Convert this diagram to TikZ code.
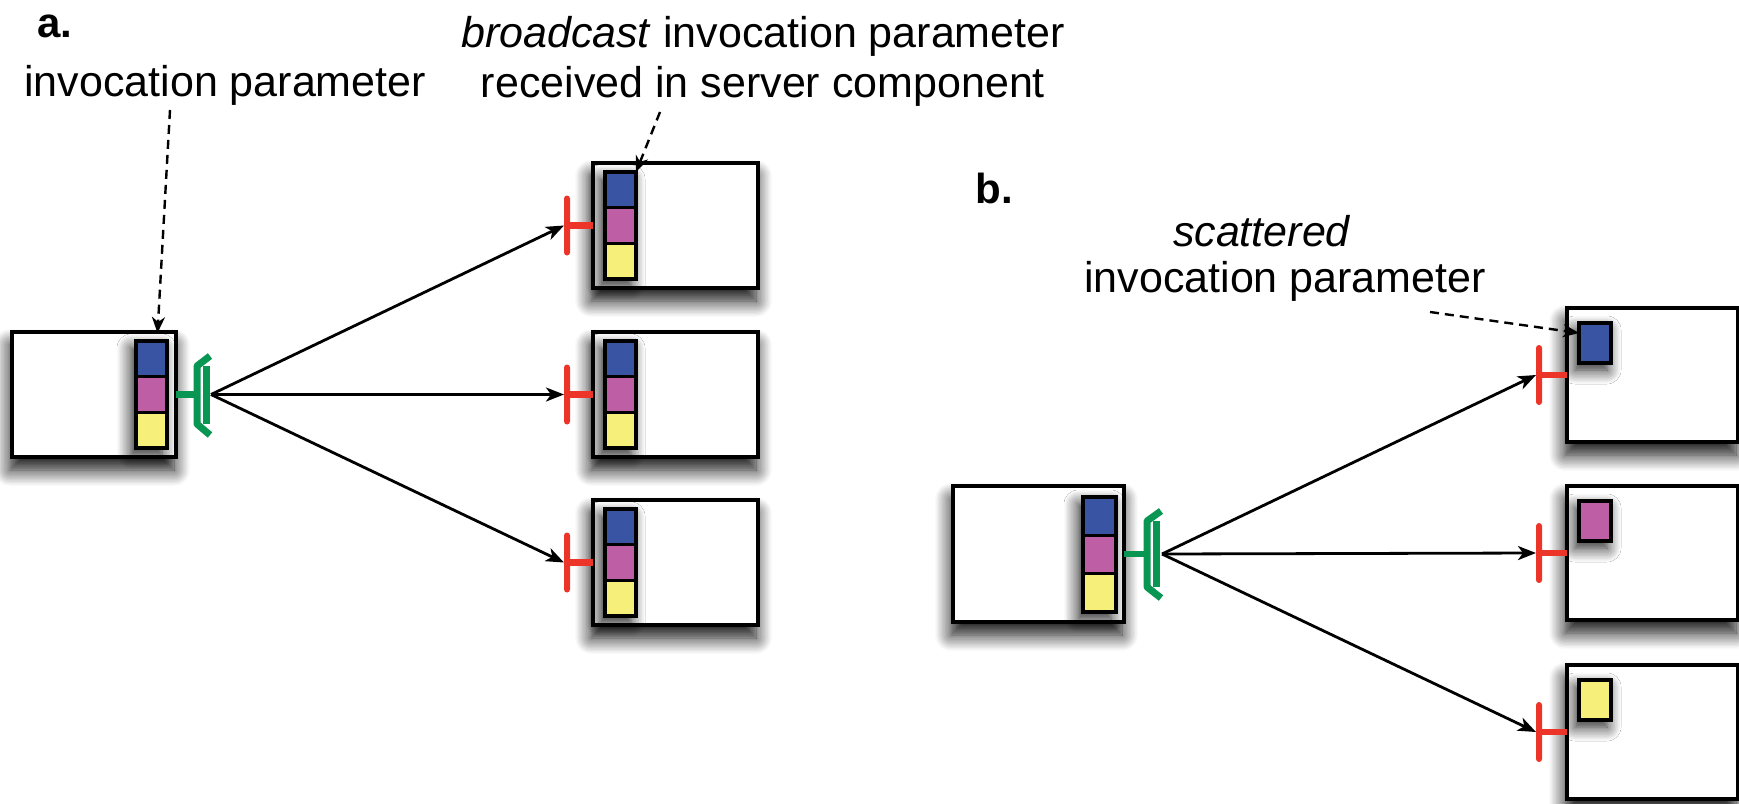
\documentclass[tikz,border=0pt]{standalone}
\usepackage{fontspec}
\setmainfont{Liberation Sans}
\usetikzlibrary{arrows.meta,shadows.blur}
\definecolor{cblue}{RGB}{58,84,164}
\definecolor{cpink}{RGB}{190,94,164}
\definecolor{cyel}{RGB}{246,239,122}
\definecolor{cred}{RGB}{236,52,40}
\definecolor{cgreen}{RGB}{8,150,82}
\begin{document}
\begin{tikzpicture}[x=0.5pt,y=-0.5pt,
  sz/.style 2 args={minimum width=#1*0.5pt, minimum height=#2*0.5pt},
  comp/.style={draw, line width=1.8pt, fill=white, inner sep=0pt, outer sep=0pt,
    blur shadow={shadow xshift=-1pt, shadow yshift=-6.5pt, shadow blur radius=8pt, shadow blur steps=12, shadow opacity=95}},
  stack/.style={draw, line width=1.6pt, fill=black, inner sep=0pt, outer sep=0pt,
    blur shadow={shadow xshift=-2.5pt, shadow yshift=-3.5pt, shadow blur radius=7pt, shadow blur steps=10, shadow opacity=90}},
  cell/.style={draw, line width=1.6pt, inner sep=0pt, outer sep=0pt},
  lbl/.style={font=\fontsize{21.5}{26}\selectfont, inner sep=0pt, anchor=base},
  tag/.style={font=\fontsize{21}{25}\selectfont\bfseries, inner sep=0pt, anchor=base west},
  flow/.style={line width=1.4pt, -{Stealth[length=9pt,width=7pt,inset=2.5pt]}},
  hint/.style={line width=1.2pt, dash pattern=on 4.5pt off 3pt, -{Stealth[length=8pt,width=6.5pt,inset=2.5pt]}},
  plugbar/.style={fill=cred, inner sep=0pt, outer sep=0pt, minimum width=3.2pt, rounded corners=1.5pt},
  plugstem/.style={cred, line width=3.2pt},
  sock/.style={cgreen, line width=3.5pt, line join=round}]
\useasboundingbox (0,0) rectangle (1739,803);

% ---------- a. broadcast ----------
\node[tag] (lblA) at (37,37) {a.};
\node[lbl, anchor=base west] (ipA) at (24,96) {invocation parameter};
\node[lbl] (bcA1) at (763,47) {\textit{broadcast} invocation parameter};
\node[lbl] (bcA2) at (763,97) {received in server component};

% client component with its parameter stack
\node[comp, sz={164}{125}] (srcA) at (94,394.5) {};
\node[stack, sz={31}{107}] (kA) at (151.5,394.5) {};
\node[cell, fill=cblue, sz={31}{35.67}] (kAb) at (151.5,358.8) {};
\node[cell, fill=cpink, sz={31}{35.67}] (kAp) at (151.5,394.5) {};
\node[cell, fill=cyel, sz={31}{35.67}] (kAy) at (151.5,430.2) {};

% green socket of the client
\draw[cgreen, line width=3.4pt] (srcA.east) -- (197,394.5);
\draw[sock] (210,356) -- (197,366) -- (197,424) -- (210,435);
\draw[sock] (206,366) -- (206,424);
\coordinate (gA) at (211,394.5);

% three server components
\foreach \i/\t in {1/163,2/332,3/500}{
  \node[comp, sz={165}{125}] (sa\i) at (675.5,\t+62.5) {};
  \node[stack, sz={31}{107}] (ka\i) at (620.5,\t+62.5) {};
  \node[cell, fill=cblue, sz={31}{35.67}] (kab\i) at (620.5,\t+26.83) {};
  \node[cell, fill=cpink, sz={31}{35.67}] (kap\i) at (620.5,\t+62.5) {};
  \node[cell, fill=cyel, sz={31}{35.67}] (kay\i) at (620.5,\t+98.17) {};
  \node[plugbar, sz={6}{60}] (pa\i) at (567,\t+62.5) {};
  \draw[plugstem] (pa\i.center) -- (sa\i.west);
  \draw[flow] (gA) -- (pa\i.west);
}

\coordinate (ipAf) at (170,110);
\draw[hint] (ipAf) -- ([xshift=3pt,yshift=4pt]kA.north);
\coordinate (bcAf) at (660,112);
\draw[hint] (bcAf) -- (kab1.north east);

% ---------- b. scatter ----------
\node[tag] (lblB) at (975,203) {b.};
\node[lbl] (scB1) at (1262,246) {\textit{scattered}};
\node[lbl] (scB2) at (1285,292) {invocation parameter};

\node[comp, sz={171}{136}] (srcB) at (1038.5,554) {};
\node[stack, sz={33}{115}] (kB) at (1099.5,554.5) {};
\node[cell, fill=cblue, sz={33}{38.33}] (kBb) at (1099.5,516.2) {};
\node[cell, fill=cpink, sz={33}{38.33}] (kBp) at (1099.5,554.5) {};
\node[cell, fill=cyel, sz={33}{38.33}] (kBy) at (1099.5,592.8) {};

\draw[cgreen, line width=3.4pt] (srcB.east) -- (1147,554);
\draw[sock] (1161,511) -- (1147,521) -- (1147,587) -- (1161,598);
\draw[sock] (1156,521) -- (1156,587);
\coordinate (gB) at (1162,554);

\foreach \i/\t/\c in {1/308/cblue,2/486/cpink,3/665/cyel}{
  \node[comp, sz={171}{134}] (sb\i) at (1652.5,\t+67) {};
  \node[cell, fill=\c, sz={32}{40},
    blur shadow={shadow xshift=-2pt, shadow yshift=-3.5pt, shadow blur radius=7pt, shadow blur steps=10, shadow opacity=90}] (sq\i) at (1595,\t+35) {};
  \node[plugbar, sz={6}{60}] (pb\i) at (1539,\t+67) {};
  \draw[plugstem] (pb\i.center) -- (sb\i.west);
  \draw[flow] (gB) -- (pb\i.west);
}

\coordinate (scBf) at (1430,312);
\draw[hint] (scBf) -- ([yshift=5pt]sq1.west);
\end{tikzpicture}
\end{document}
